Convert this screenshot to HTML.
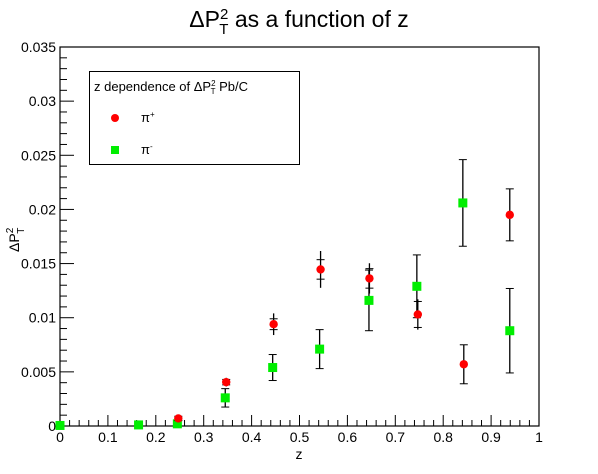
<!DOCTYPE html>
<html><head><meta charset="utf-8"><style>
body{margin:0;background:#fff;}
svg{display:block;font-family:"Liberation Sans",sans-serif;}
</style></head><body>
<svg id="c" width="598" height="474">
<text x="299" y="27" font-size="23" text-anchor="middle">ΔP<tspan dy="-8" font-size="15">2</tspan><tspan dx="-9" dy="15" font-size="15">T</tspan><tspan dy="-7"> as a function of z</tspan></text>
<rect x="60" y="47" width="479" height="379" fill="none" stroke="#000" stroke-width="1.2"/>
<g id="axes"></g>
<g id="marks"></g>
<text x="299" y="459" font-size="14" text-anchor="middle">z</text>
<text transform="translate(19,252) rotate(-90)" font-size="14">ΔP<tspan dy="-6" font-size="10">2</tspan><tspan dx="-6" dy="11" font-size="10">T</tspan></text>
<g>
<rect x="89.5" y="71.5" width="210" height="93" fill="#fff" stroke="#000" stroke-width="1"/>
<text x="94" y="91" font-size="13">z dependence of ΔP<tspan dy="-5" font-size="8">2</tspan><tspan dx="-5" dy="8" font-size="8">T</tspan><tspan dy="-3"> Pb/C</tspan></text>
<circle cx="115" cy="118" r="4" fill="#ff0000"/>
<text x="141" y="122" font-size="13">π<tspan dy="-5" font-size="8">+</tspan></text>
<rect x="111" y="146" width="8" height="8" fill="#00ee00"/>
<text x="141" y="154" font-size="13">π<tspan dy="-5" font-size="8">-</tspan></text>
</g>
</svg>
<script>
const yTicks=[0,0.005,0.01,0.015,0.02,0.025,0.03,0.035];
const yTickLabels=["0","0.005","0.01","0.015","0.02","0.025","0.03","0.035"];
const xTicks=[0,0.1,0.2,0.3,0.4,0.5,0.6,0.7,0.8,0.9,1];
const xTickLabels=["0","0.1","0.2","0.3","0.4","0.5","0.6","0.7","0.8","0.9","1"];
const piPlusZ=[0.247,0.347,0.446,0.544,0.646,0.747,0.843,0.939];
const piPlusVal=[0.0007,0.00405,0.0094,0.01446,0.01363,0.0103,0.0057,0.0195];
const piPlusStat=[0.0003,0.0004,0.001,0.0017,0.0014,0.0014,0.0018,0.0024];
const piPlusSys=[0.0002,0.00025,0.0005,0.0009,0.0009,0.0012,0.0018,0.0024];
const piMinusZ=[0.0,0.164,0.245,0.345,0.444,0.542,0.645,0.745,0.841,0.939];
const piMinusVal=[0.00005,0.0001,0.0002,0.0026,0.0054,0.0071,0.0116,0.0129,0.0206,0.0088];
const piMinusErr=[0,0,0,0.00085,0.0012,0.0018,0.0028,0.0029,0.004,0.0039];
const X0=60,X1=539,Y0=426,Y1=47;
const sx=v=>X0+v*(X1-X0);
const sy=v=>Y0-v/0.035*(Y0-Y1);
const NS="http://www.w3.org/2000/svg";
function mk(tag,attrs,parent){const e=document.createElementNS(NS,tag);for(const k in attrs)e.setAttribute(k,attrs[k]);parent.appendChild(e);return e;}
const ax=document.getElementById('axes'),mg=document.getElementById('marks');
for(let i=0;i<yTicks.length;i++){const y=sy(yTicks[i]);
 const l=mk('line',{x1:X0,x2:X0+14,y1:y,y2:y,stroke:'#000'},ax);
 
 
 const t=mk('text',{x:X0-4,y:y+5,'font-size':14,'text-anchor':'end'},ax);t.textContent=yTickLabels[i];
 
 
 if(i<yTicks.length-1)for(let j=1;j<5;j++){const ym=sy(yTicks[i]+j*0.001);mk('line',{x1:X0,x2:X0+7,y1:ym,y2:ym,stroke:'#000'},ax);}
}
for(let i=0;i<xTicks.length;i++){const x=sx(xTicks[i]);
 const l=mk('line',{x1:x,x2:x,y1:Y0,y2:Y0-11,stroke:'#000'},ax);
 
 
 const t=mk('text',{x:x,y:Y0+16,'font-size':14,'text-anchor':'middle'},ax);t.textContent=xTickLabels[i];
 
 
 if(i<xTicks.length-1)for(let j=1;j<5;j++){const xm=sx(xTicks[i]+j*0.02);mk('line',{x1:xm,x2:xm,y1:Y0,y2:Y0-6,stroke:'#000'},ax);}
}
for(let i=0;i<piMinusZ.length;i++){const x=sx(piMinusZ[i]),y=sy(piMinusVal[i]),e=piMinusErr[i];
 if(e>0){const a=sy(piMinusVal[i]+e),b=sy(piMinusVal[i]-e);
  mk('line',{x1:x,x2:x,y1:a,y2:b,stroke:'#000','stroke-width':1.3},mg);
  mk('line',{x1:x-4,x2:x+4,y1:a,y2:a,stroke:'#000'},mg);
  mk('line',{x1:x-4,x2:x+4,y1:b,y2:b,stroke:'#000'},mg);}
 const r=mk('rect',{x:x-4.5,y:y-4.5,width:9,height:9,fill:'#00ee00'},mg);
 
 
}
for(let i=0;i<piPlusZ.length;i++){const x=sx(piPlusZ[i]),y=sy(piPlusVal[i]),v=piPlusVal[i];
 mk('line',{x1:x,x2:x,y1:sy(v+piPlusStat[i]),y2:sy(v-piPlusStat[i]),stroke:'#000','stroke-width':1.3},mg);
 const a=sy(v+piPlusSys[i]),b=sy(v-piPlusSys[i]);
 mk('line',{x1:x-4,x2:x+4,y1:a,y2:a,stroke:'#000'},mg);
 mk('line',{x1:x-4,x2:x+4,y1:b,y2:b,stroke:'#000'},mg);
 const c=mk('circle',{cx:x,cy:y,r:4.2,fill:'#ff0000'},mg);
 
 
}
</script>
</body></html>
